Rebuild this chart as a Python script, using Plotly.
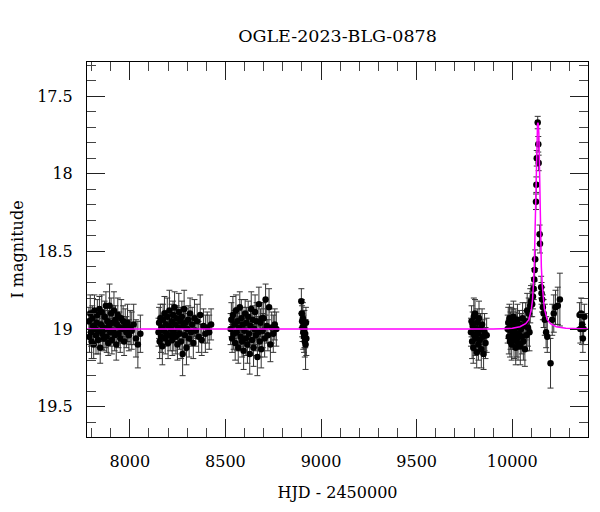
import plotly.graph_objects as go

title_text = "OGLE-2023-BLG-0878"
x_title = "HJD - 2450000"
y_title = "I magnitude"

# observing seasons: [HJD-2450000, I mag, error]
season1 = [[7786,18.95,0.09],[7789,19.05,0.10],[7793,18.90,0.12],[7797,19.02,0.09],[7800,19.08,0.11],
           [7804,18.93,0.08],[7808,18.98,0.10],[7811,19.10,0.09],[7815,18.88,0.10],[7819,19.00,0.08],
           [7823,19.04,0.12],[7826,18.96,0.09],[7830,18.91,0.10],[7834,19.07,0.09],[7838,19.01,0.11],
           [7841,18.87,0.08],[7845,19.12,0.10],[7849,18.97,0.09],[7853,18.89,0.11],[7856,19.03,0.10],
           [7860,18.99,0.09],[7864,19.06,0.08],[7868,18.92,0.10],[7871,19.00,0.12],[7875,18.85,0.09],
           [7879,19.05,0.10],[7883,18.95,0.11],[7887,19.09,0.08],[7890,18.98,0.10],[7894,18.85,0.14],
           [7898,19.02,0.09],[7902,18.90,0.10],[7906,19.07,0.09],[7910,18.96,0.11],[7913,19.01,0.08],
           [7917,18.88,0.12],[7921,19.04,0.10],[7925,18.94,0.09],[7929,19.10,0.10],[7933,18.97,0.08],
           [7937,18.91,0.11],[7941,19.03,0.09],[7945,18.99,0.10],[7950,19.06,0.09],[7955,18.93,0.12],
           [7960,19.00,0.08],[7965,18.95,0.10],[7970,19.08,0.09],[7976,18.98,0.11],[7982,19.02,0.10],
           [7988,18.96,0.12],[7995,19.04,0.10],[8002,18.99,0.11],[8010,19.01,0.12],[8020,18.97,0.13],
           [8032,19.06,0.12],[8042,19.10,0.15],[8055,19.03,0.12]]
season2 = [[8150,19.02,0.09],[8153,18.96,0.10],[8156,19.08,0.11],[8160,18.93,0.09],[8163,19.05,0.10],
           [8167,18.99,0.08],[8170,19.11,0.12],[8174,18.94,0.10],[8178,19.01,0.09],[8181,18.90,0.11],
           [8185,19.06,0.10],[8189,18.97,0.09],[8192,19.03,0.08],[8196,18.92,0.12],[8200,19.09,0.10],
           [8204,18.98,0.09],[8207,18.88,0.13],[8211,19.04,0.10],[8215,19.00,0.09],[8219,18.95,0.11],
           [8222,19.07,0.10],[8226,18.91,0.09],[8230,19.02,0.12],[8234,18.86,0.10],[8237,18.97,0.09],
           [8241,19.05,0.11],[8245,18.93,0.08],[8249,19.10,0.10],[8252,18.99,0.09],[8256,18.89,0.12],
           [8260,19.03,0.10],[8264,18.95,0.09],[8268,19.08,0.11],[8272,18.92,0.10],[8276,19.16,0.14],
           [8280,18.98,0.09],[8284,18.87,0.12],[8288,19.04,0.10],[8292,18.96,0.09],[8296,19.12,0.11],
           [8300,19.00,0.10],[8305,18.94,0.09],[8310,19.06,0.12],[8315,18.90,0.10],[8320,19.02,0.09],
           [8326,18.97,0.11],[8332,19.09,0.10],[8338,18.93,0.12],[8345,19.01,0.10],[8352,18.95,0.11],
           [8360,19.05,0.10],[8368,18.91,0.13],[8376,19.07,0.10],[8385,18.98,0.11],[8395,19.03,0.12],
           [8405,18.99,0.10],[8415,19.02,0.11],[8425,18.97,0.10]]
season3 = [[8527,19.00,0.10],[8531,18.94,0.11],[8535,19.06,0.09],[8539,18.91,0.12],[8543,19.03,0.10],
           [8547,18.97,0.09],[8551,19.09,0.11],[8555,18.88,0.10],[8559,19.02,0.12],[8563,18.95,0.09],
           [8567,19.12,0.10],[8571,18.99,0.11],[8575,18.86,0.10],[8579,19.05,0.09],[8583,18.93,0.12],
           [8587,19.08,0.10],[8591,18.97,0.11],[8595,19.14,0.12],[8599,19.01,0.10],[8603,18.90,0.09],
           [8607,19.06,0.11],[8611,18.96,0.10],[8615,19.10,0.12],[8619,18.92,0.10],[8623,19.03,0.09],
           [8627,19.16,0.13],[8631,18.98,0.10],[8635,18.87,0.11],[8639,19.07,0.10],[8643,18.94,0.09],
           [8647,19.12,0.12],[8651,19.00,0.10],[8655,18.89,0.11],[8659,19.04,0.10],[8663,18.95,0.12],
           [8667,19.18,0.12],[8671,19.02,0.10],[8675,18.84,0.11],[8679,19.08,0.10],[8683,18.96,0.09],
           [8687,19.13,0.12],[8691,18.93,0.10],[8695,19.01,0.11],[8700,18.93,0.10],[8705,19.06,0.12],
           [8710,18.81,0.10],[8716,18.98,0.11],[8722,19.04,0.10],[8728,18.86,0.12],[8735,19.10,0.11],
           [8742,18.99,0.10],[8750,19.03,0.12],[8758,18.97,0.10],[8766,19.00,0.11]]
season4 = [[8897,18.82,0.08],[8899,18.90,0.09],[8901,18.95,0.10],[8903,18.99,0.09],[8905,18.93,0.10],
           [8907,19.02,0.11],[8909,18.97,0.09],[8911,19.05,0.10],[8913,19.00,0.12],[8915,19.08,0.10],
           [8917,19.03,0.09],[8919,19.10,0.16],[8921,18.96,0.10],[8923,19.06,0.11]]
season5 = [[9784,19.02,0.09],[9787,18.95,0.10],[9790,19.08,0.11],[9793,18.98,0.09],[9796,19.12,0.10],
           [9799,18.92,0.12],[9802,19.04,0.10],[9805,18.90,0.09],[9808,19.06,0.11],[9811,19.00,0.10],
           [9814,19.15,0.10],[9817,18.96,0.09],[9820,19.03,0.12],[9823,19.10,0.10],[9826,18.93,0.11],
           [9830,19.07,0.09],[9834,19.00,0.10],[9838,19.13,0.12],[9842,18.97,0.10],[9846,19.05,0.11],
           [9850,19.16,0.10],[9855,19.02,0.12],[9860,19.09,0.10],[9866,19.04,0.11]]
season6 = [[9976,19.00,0.09],[9979,18.96,0.10],[9982,19.05,0.11],[9985,18.93,0.09],[9988,19.08,0.10],
           [9991,19.01,0.12],[9994,18.95,0.09],[9997,19.10,0.10],[10000,18.98,0.11],[10003,19.04,0.09],
           [10006,18.92,0.10],[10009,19.07,0.12],[10012,19.02,0.10],[10015,18.96,0.09],[10018,19.12,0.11],
           [10021,18.99,0.10],[10024,19.06,0.12],[10027,18.94,0.10],[10030,19.09,0.11],[10034,19.03,0.10],
           [10038,18.97,0.09],[10042,19.11,0.12],[10046,19.00,0.10],[10050,19.05,0.11],[10054,18.93,0.10],
           [10058,19.08,0.12],[10062,18.98,0.10],[10066,19.13,0.11],[10070,18.95,0.12],[10074,19.04,0.10],
           [10078,18.88,0.11],[10082,18.99,0.12],[10086,18.90,0.10],[10090,19.02,0.12],[10094,18.85,0.11],
           [10098,18.82,0.10],[10104,18.84,0.08],[10108,18.79,0.08],[10112,18.74,0.07],[10115,18.68,0.07],
           [10117,18.62,0.07],[10120,18.55,0.06],[10124,18.18,0.05],[10126,18.07,0.05],[10128,17.90,0.05],
           [10133,17.67,0.04],[10136,17.81,0.05],[10138,17.93,0.05],[10143,18.39,0.06],[10145,18.45,0.06],
           [10151,18.73,0.07],[10153,18.77,0.07],[10156,18.81,0.08],[10160,18.86,0.08],[10164,18.90,0.09],
           [10170,18.94,0.10],[10177,19.02,0.10],[10183,19.05,0.10],[10200,19.22,0.16],[10209,18.94,0.10],
           [10217,18.90,0.12],[10226,18.86,0.11],[10238,18.85,0.12],[10249,18.81,0.17]]
season7 = [[10352,18.91,0.08],[10356,19.00,0.09],[10360,18.90,0.10],[10365,18.97,0.08],
           [10369,19.06,0.09],[10373,19.00,0.10],[10377,18.92,0.08]]

# model light curve
model_t = [7776, 9900, 10000, 10040, 10070, 10087, 10100, 10106, 10111, 10115, 10119, 10122,
           10126, 10129, 10132, 10134, 10136, 10139, 10142, 10145, 10149, 10152, 10157,
           10162, 10168, 10183, 10200, 10230, 10280, 10396]
model_m = [19.0, 19.0, 18.995, 18.985, 18.965, 18.94, 18.87, 18.81, 18.70, 18.60, 18.38, 18.17,
           17.92, 17.74, 17.68, 17.67, 17.68, 17.74, 17.95, 18.17, 18.42, 18.60, 18.72,
           18.81, 18.87, 18.94, 18.965, 18.985, 18.995, 19.0]

obs = season1 + season2 + season3 + season4 + season5 + season6 + season7
obs_t = [r[0] for r in obs]
obs_m = [r[1] for r in obs]
obs_e = [r[2] for r in obs]

font_family = "DejaVu Serif"

fig = go.Figure()
fig.add_trace(go.Scatter(
    x=obs_t, y=obs_m, mode="markers",
    marker=dict(color="black", size=6.5),
    error_y=dict(type="data", array=obs_e, color="#333333", thickness=1, width=3),
    showlegend=False,
))
fig.add_trace(go.Scatter(
    x=model_t, y=model_m, mode="lines",
    line=dict(color="#ff00ff", width=1.5),
    showlegend=False,
))

axis_common = dict(
    showline=True, linecolor="black", linewidth=1, mirror="ticks",
    ticks="inside", tickcolor="#222", tickwidth=1, ticklen=18,
    showgrid=False, zeroline=False, automargin=False,
    tickfont=dict(family=font_family, size=16, color="black"),
)

fig.update_xaxes(
    **axis_common,
    range=[7776, 10396], dtick=500, tick0=0, tickformat="d",
    minor=dict(ticks="inside", ticklen=9, dtick=100, tick0=0, tickcolor="#444", showgrid=False),
    title=dict(text=x_title, font=dict(family=font_family, size=16, color="black"), standoff=16),
    ticklabelstandoff=10,
)
fig.update_yaxes(
    **axis_common,
    range=[19.695, 17.28], dtick=0.5, tick0=0,
    minor=dict(ticks="inside", ticklen=9, dtick=0.1, tick0=0, tickcolor="#444", showgrid=False),
    title=dict(text=y_title, font=dict(family=font_family, size=16, color="black"), standoff=9),
    ticklabelstandoff=10,
)

# the page adds an 8 px body margin, so the figure is drawn 8 px in from the top-left
fig.update_layout(
    width=592, height=504,
    margin=dict(l=79, r=12, t=54, b=75),
    plot_bgcolor="white", paper_bgcolor="white",
    title=dict(text=title_text, x=0.5, xref="paper", y=1 - 28 / 504, yref="container",
               yanchor="middle", font=dict(family=font_family, size=17.5, color="black")),
)

fig.write_html("out.html")
